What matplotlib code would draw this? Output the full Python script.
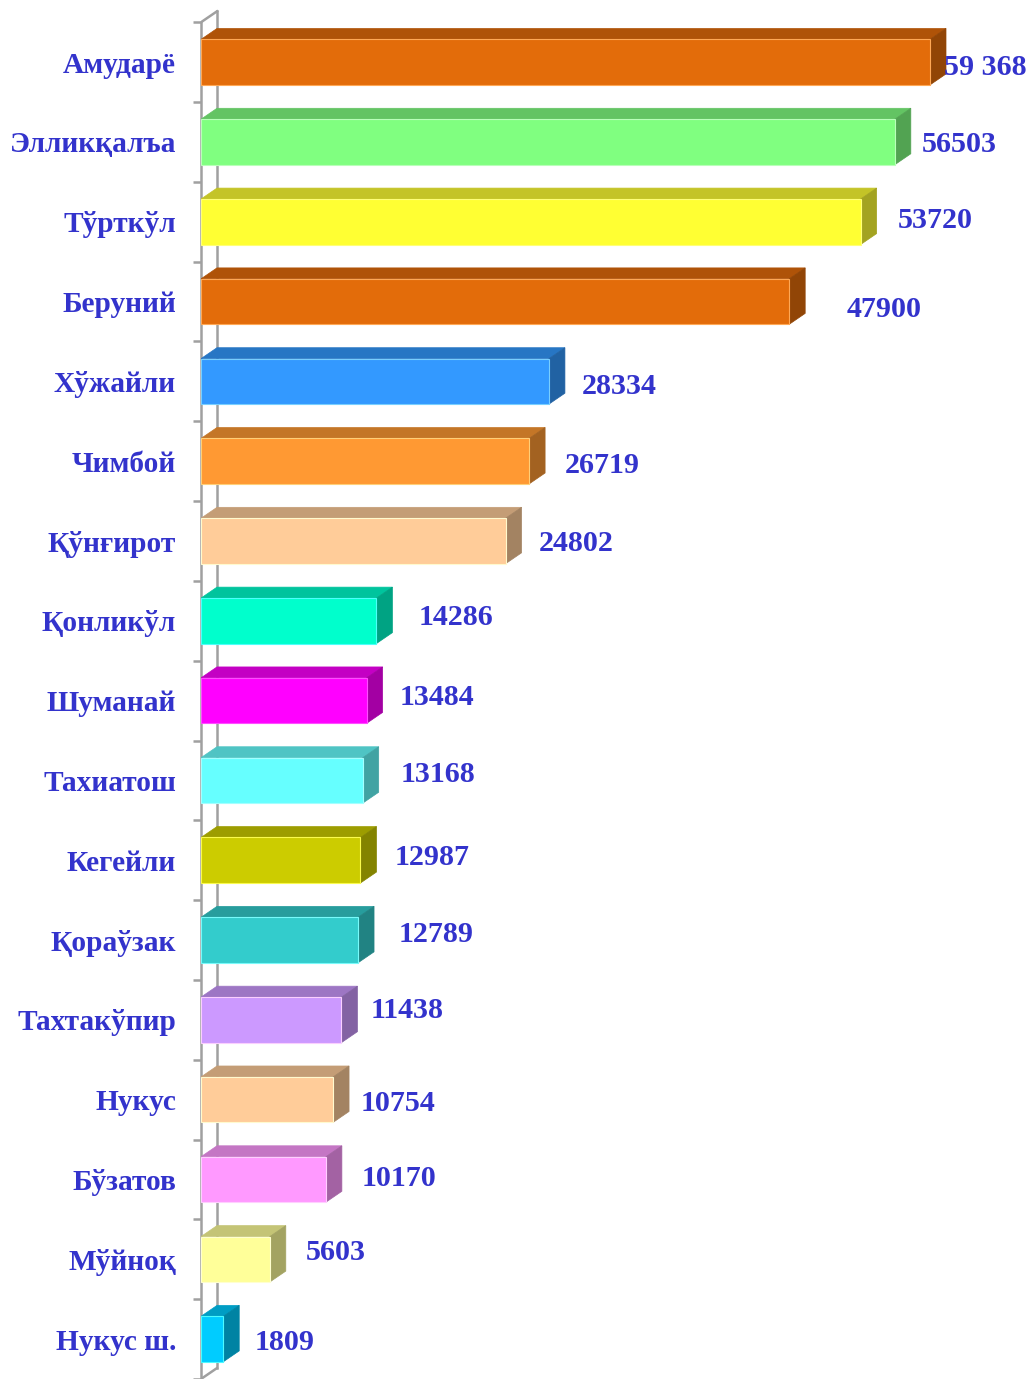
import numpy as np
import matplotlib.pyplot as plt
from matplotlib.patches import Polygon
from matplotlib.colors import to_rgb

districts = ["Амударё", "Элликқалъа", "Тўрткўл", "Беруний", "Хўжайли", "Чимбой",
             "Қўнғирот", "Қонликўл", "Шуманай", "Тахиатош", "Кегейли", "Қораўзак",
             "Тахтакўпир", "Нукус", "Бўзатов", "Мўйноқ", "Нукус ш."]
values = [59368, 56503, 53720, 47900, 28334, 26719, 24802, 14286, 13484, 13168,
          12987, 12789, 11438, 10754, 10170, 5603, 1809]
value_labels = ["59 368", "56503", "53720", "47900", "28334", "26719", "24802", "14286",
                "13484", "13168", "12987", "12789", "11438", "10754", "10170", "5603", "1809"]
bar_colors = ["#E36C0A", "#80FF80", "#FFFF33", "#E36C0A", "#3399FF", "#FF9933",
              "#FFCC99", "#00FFCC", "#FF00FF", "#66FFFF", "#CCCC00", "#33CCCC",
              "#CC99FF", "#FFCC99", "#FF99FF", "#FFFF99", "#00CCFF"]

# label nudges in pixels (gap after bar, vertical shift; negative = up)
label_gap = [-2, 11, 21, 41, 17, 20, 17, 26, 17, 22, 18, 25, 13, 12, 20, 20, 15]
label_dy = [2, 0, -4, 5, 2, 1, -1, -6, -6, -9, -6, -9, -12, 1, -4, -10, 0]

text_col = "#3333CC"
wall_col = "#A0A0A0"
plt.rcParams['font.family'] = ['Liberation Serif', 'DejaVu Serif']

W, H = 1029, 1379
fig = plt.figure(figsize=(W / 100, H / 100), dpi=100)
x0_px = 201
ax = fig.add_axes([x0_px / W, 0, 1 - x0_px / W, 1])

px_per_unit = 729 / 59368.0
row_px = 80.25
top_px = 62.5
xmax = (W - x0_px) / px_per_unit
ax.set_xlim(0, xmax)
ax.set_ylim((H - top_px) / row_px, -top_px / row_px)

# depth of the 3D effect in data units
ddx = 16 / px_per_unit
ddy = 11 / row_px
h = 0.57

n = len(values)
# wall
bottom = n - 0.5
ax.plot([0, 0], [-0.5, bottom + 0.2], color=wall_col, lw=1.8, clip_on=False, zorder=1)
ax.plot([ddx, ddx], [-0.5 - ddy, bottom - ddy], color=wall_col, lw=1.8, zorder=1)
ax.plot([0, ddx], [-0.5, -0.5 - ddy], color=wall_col, lw=1.8, zorder=1)
ax.plot([0, ddx], [bottom, bottom - ddy], color=wall_col, lw=1.8, zorder=1)

for i, (v, c) in enumerate(zip(values, bar_colors)):
    rgb = np.array(to_rgb(c))
    top_c = rgb * 0.77
    side_c = rgb * 0.64
    edge_c = np.minimum(rgb * 0.85 + 0.3, 1)
    y_top = i - h / 2
    y_bot = i + h / 2
    front = Polygon([[0, y_top], [v, y_top], [v, y_bot], [0, y_bot]], closed=True,
                    facecolor=rgb, edgecolor=edge_c, lw=0.8, zorder=3)
    top = Polygon([[0, y_top], [ddx, y_top - ddy], [v + ddx, y_top - ddy], [v, y_top]],
                  closed=True, facecolor=top_c, edgecolor=top_c, lw=0.5, zorder=2)
    side = Polygon([[v, y_top], [v + ddx, y_top - ddy], [v + ddx, y_bot - ddy], [v, y_bot]],
                   closed=True, facecolor=side_c, edgecolor=side_c, lw=0.5, zorder=2)
    for p in (top, side, front):
        ax.add_patch(p)
    lx = v + ddx + label_gap[i] / px_per_unit
    ly = i + label_dy[i] / row_px
    ax.text(lx, ly, value_labels[i], ha='left', va='center_baseline', fontsize=21.6,
            fontweight='bold', color=text_col, zorder=4)

ax.set_yticks(range(n))
ax.set_yticklabels(districts, fontsize=21.2, fontweight='bold', color=text_col,
                   va='center_baseline')
ax.tick_params(axis='y', which='major', length=0, pad=18)
ax.set_yticks(np.arange(-0.5, n, 1.0), minor=True)
ax.tick_params(axis='y', which='minor', length=5.8, width=1.8, color=wall_col)
ax.set_xticks([])
for s in ax.spines.values():
    s.set_visible(False)

fig.savefig("out.png", dpi=100)
